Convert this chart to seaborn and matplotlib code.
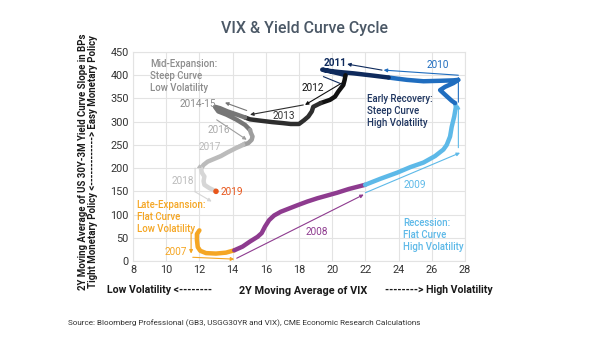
import matplotlib
matplotlib.use("Agg")
import matplotlib.pyplot as plt
import numpy as np
import pandas as pd
import seaborn as sns

# 2-year moving averages: VIX level (x) vs. US 30Y-3M curve slope in bps (y)
vix_2007 = [12.0, 11.85, 11.85, 11.9, 12.05, 12.4, 13.0, 13.6, 14.1]
slope_2007 = [66, 58, 45, 30, 22, 17, 16, 18, 23]

vix_2008 = [14.1, 14.6, 15.05, 15.5, 15.75, 15.95, 16.2, 16.5, 16.9, 17.4, 17.9,
            18.5, 19.1, 19.7, 20.3, 21.0, 21.98]
slope_2008 = [23, 31, 42, 52, 60, 74, 88, 98, 106, 113, 120, 128, 135, 141, 147,
              155, 164]

vix_2009 = [21.98, 22.9, 23.9, 24.7, 25.5, 26.2, 26.7, 26.9, 27.1, 27.2, 27.35,
            27.45, 27.4]
slope_2009 = [164, 177, 190, 202, 212, 226, 240, 250, 268, 289, 311, 332, 340]

vix_2010 = [27.4, 27.2, 26.8, 26.5, 26.8, 27.3, 27.6, 27.3, 26.5, 25.5, 24.5, 23.4]
slope_2010 = [340, 345, 358, 368, 375, 383, 390, 389, 388, 387, 390, 395]

vix_2011 = [23.4, 22.5, 21.3, 20.4, 19.9, 19.4, 19.9, 20.5, 20.8]
slope_2011 = [395, 399, 404, 407, 409, 412, 408, 403, 400]

vix_2012 = [20.8, 20.75, 20.67, 20.37, 20.17, 19.87, 19.3]
slope_2012 = [400, 390, 379, 365, 354, 347, 340]

vix_2013 = [19.3, 18.86, 18.77, 18.56, 18.3, 18.0, 17.5, 17.0, 16.4, 15.7, 15.05, 14.75]
slope_2013 = [340, 332, 322, 311, 303, 295, 295, 297, 299, 302, 305, 309]

vix_2014 = [14.75, 14.2, 13.7, 13.24, 12.94, 13.14, 13.64, 14.25, 14.75, 15.05]
slope_2014 = [309, 316, 322, 329, 332, 322, 315, 304, 293, 282]

vix_2016 = [15.05, 15.1, 15.2, 15.15, 14.95, 14.64]
slope_2016 = [282, 276, 268, 261, 254, 250]

vix_2017 = [14.64, 14.2, 13.7, 13.3, 12.9, 12.5, 12.25, 12.1]
slope_2017 = [250, 243, 234, 226, 220, 214, 207, 199]

vix_2018 = [12.1, 12.15, 12.3, 12.25, 12.3, 12.6, 13.0]
slope_2018 = [199, 190, 182, 172, 164, 157, 150]

vix_2019 = [13.0]
slope_2019 = [150]

years = ["2007", "2008", "2009", "2010", "2011", "2012", "2013", "2014-15",
         "2016", "2017", "2018"]
year_vix = [vix_2007, vix_2008, vix_2009, vix_2010, vix_2011, vix_2012, vix_2013,
            vix_2014, vix_2016, vix_2017, vix_2018]
year_slope = [slope_2007, slope_2008, slope_2009, slope_2010, slope_2011, slope_2012,
              slope_2013, slope_2014, slope_2016, slope_2017, slope_2018]

x_ticks = [8, 10, 12, 14, 16, 18, 20, 22, 24, 26, 28]
y_ticks = [0, 50, 100, 150, 200, 250, 300, 350, 400, 450]

palette = {
    "2007": "#F5A623", "2008": "#8E3B8F", "2009": "#5DB9E8", "2010": "#1F6DBF",
    "2011": "#0E2A5C", "2012": "#111111", "2013": "#2E2E2E", "2014-15": "#767676",
    "2016": "#9E9E9E", "2017": "#BBBBBB", "2018": "#D6D6D6",
}
C_2019 = "#E8561B"

rows = []
for yr, xs, ys in zip(years, year_vix, year_slope):
    for i, (xv, yv) in enumerate(zip(xs, ys)):
        rows.append({"year": yr, "vix": xv, "slope": yv, "step": i})
df = pd.DataFrame(rows)

sns.set_theme(style="whitegrid")
plt.rcParams["font.family"] = ["Roboto", "DejaVu Sans"]

fig = plt.figure(figsize=(6.05, 3.41), dpi=100)
ax = fig.add_axes([133 / 605, 1 - 261 / 341, 332 / 605, 209 / 341])

sns.lineplot(data=df, x="vix", y="slope", hue="year", palette=palette,
             hue_order=years, sort=False, estimator=None, lw=3.2,
             legend=False, ax=ax, solid_capstyle="round", solid_joinstyle="round")
sns.scatterplot(x=vix_2019, y=slope_2019, color=C_2019, s=16, edgecolor="none",
                ax=ax, zorder=5)

ax.set_xlim(8, 28)
ax.set_ylim(0, 450)
ax.set_xticks(x_ticks)
ax.set_yticks(y_ticks)
ax.tick_params(axis="both", labelsize=7.8, colors="#333333", length=0, pad=3)
ax.grid(True, color="#E3E3E3", lw=0.8)
for sp in ax.spines.values():
    sp.set_color("#E3E3E3")
    sp.set_linewidth(0.8)
ax.set_xlabel("")
ax.set_ylabel("")
ax.set_facecolor("white")

# annotation arrows: (start, end, colour, draw head)
arrows = [
    ((11.5, 63), (11.5, 16), palette["2007"], True),
    ((11.6, 8), (14.1, 4), palette["2007"], True),
    ((14.25, 6), (21.9, 143), palette["2008"], True),
    ((22.0, 147), (27.7, 233), palette["2009"], True),
    ((27.6, 244), (27.6, 336), palette["2009"], True),
    ((27.6, 342), (27.6, 397), palette["2010"], True),
    ((27.6, 400), (23.1, 411), palette["2010"], True),
    ((23.0, 411), (20.9, 424), palette["2011"], True),
    ((19.47, 397), (20.57, 381), palette["2011"], False),
    ((20.57, 383), (18.36, 336), palette["2012"], True),
    ((18.26, 336), (15.05, 315), palette["2013"], True),
    ((14.85, 324), (13.54, 341), palette["2014-15"], True),
    ((13.1, 332), (13.1, 319), palette["2014-15"], True),
    ((13.04, 304), (14.85, 261), palette["2016"], True),
    ((14.75, 257), (11.84, 200), palette["2017"], True),
    ((11.74, 200), (11.74, 149), palette["2018"], False),
    ((11.74, 149), (12.74, 128), palette["2018"], True),
]
for (x0, y0), (x1, y1), col, head in arrows:
    ax.annotate("", xy=(x1, y1), xytext=(x0, y0),
                arrowprops=dict(arrowstyle="-|>" if head else "-", color=col,
                                lw=0.8, mutation_scale=5, shrinkA=0, shrinkB=0))

# year labels
year_labels = [
    ("2007", 10.6, 19, palette["2007"], "normal"),
    ("2008", 19.05, 63, palette["2008"], "normal"),
    ("2009", 24.95, 164, palette["2009"], "normal"),
    ("2010", 26.35, 422, palette["2010"], "normal"),
    ("2011", 20.2, 426, palette["2011"], "bold"),
    ("2012", 18.86, 373, palette["2012"], "normal"),
    ("2013", 17.08, 313, "#333333", "normal"),
    ("2014-15", 11.9, 338, "#8A8A8A", "normal"),
    ("2016", 13.16, 281, "#AAAAAA", "normal"),
    ("2017", 12.64, 246, "#BBBBBB", "normal"),
    ("2018", 11.0, 173, "#BBBBBB", "normal"),
    ("2019", 13.96, 149, C_2019, "normal"),
]
for txt, xv, yv, col, wt in year_labels:
    ax.text(xv, yv, txt, color=col, fontsize=7.2, ha="center", va="center",
            fontweight=wt)

# phase descriptions
phases = [
    ("Mid-Expansion:\nSteep Curve\nLow Volatility", 9.02, 399, "#8C8C8C"),
    ("Late-Expansion:\nFlat Curve\nLow Volatility", 8.22, 95.5, "#F5A623"),
    ("Early Recovery:\nSteep Curve\nHigh Volatility", 22.07, 324, "#1E3560"),
    ("Recession:\nFlat Curve\nHigh Volatility", 24.28, 57, "#5DB9E8"),
]
for txt, xv, yv, col in phases:
    ax.text(xv, yv, txt, color=col, fontsize=6.9, ha="left", va="center",
            fontweight="medium", linespacing=1.25)

fig.text(0.503, 1 - 28 / 341, "VIX & Yield Curve Cycle", ha="center", va="center",
         fontsize=11.5, color="#4B5866", fontweight="medium")

fig.text(88 / 605, 1 - 162 / 341,
         "2Y Moving Average of US 30Y-3M Yield Curve Slope in BPs\n"
         "Tight Monetary Policy <-------------> Easy Monetary Policy",
         rotation=90, ha="center", va="center", multialignment="center",
         fontsize=6.9, fontweight="bold", color="#1A1A1A", linespacing=1.1)

fig.text(303 / 605, 1 - 291 / 341, "2Y Moving Average of VIX", ha="center",
         va="center", fontsize=7.8, fontweight="bold", color="#1A1A1A")
fig.text(107 / 605, 1 - 290 / 341, "Low Volatility <--------", ha="left",
         va="center", fontsize=7.6, fontweight="bold", color="#1A1A1A")
fig.text(385 / 605, 1 - 290 / 341, "--------> High Volatility", ha="left",
         va="center", fontsize=7.6, fontweight="bold", color="#1A1A1A")

fig.text(68 / 605, 1 - 323 / 341,
         "Source: Bloomberg Professional (GB3, USGG30YR and VIX), CME Economic "
         "Research Calculations", ha="left", va="center", fontsize=5.9,
         color="#333333")

fig.savefig("out.png", dpi=100, facecolor="white")
